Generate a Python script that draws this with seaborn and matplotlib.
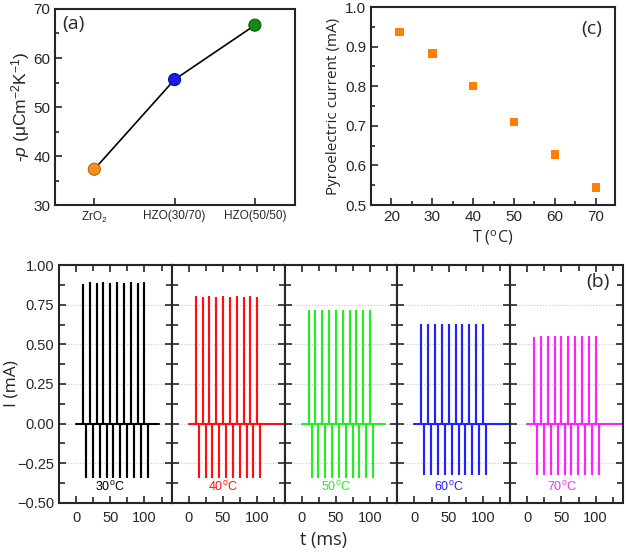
import matplotlib
matplotlib.use("Agg")
import matplotlib.pyplot as plt
from matplotlib.ticker import MultipleLocator, FixedLocator
import seaborn as sns
import pandas as pd

# ---------------- data ----------------
materials = ["ZrO$_2$", "HZO(30/70)", "HZO(50/50)"]
p_values = [37.3, 55.6, 66.7]
mat_colors = ["#f5901e", "#1a1aee", "#138a13"]
mat_edges = ["#b8620a", "#0a0a90", "#0a5a0a"]

T_c = [22, 30, 40, 50, 60, 70]
I_c = [0.937, 0.883, 0.800, 0.710, 0.627, 0.544]

temps = ["30", "40", "50", "60", "70"]
temp_colors = ["#000000", "#ff1010", "#22ee22", "#2222ff", "#ff22ff"]
pos_times = [10, 20, 30, 40, 50, 60, 70, 80, 90, 100]
neg_times = [14.5, 24.5, 34.5, 44.5, 54.5, 64.5, 74.5, 84.5, 94.5, 104.5]
pos_amp = {
    "30": [0.875, 0.885, 0.878, 0.885, 0.880, 0.885, 0.880, 0.885, 0.880, 0.885],
    "40": [0.800, 0.795, 0.800, 0.795, 0.800, 0.790, 0.800, 0.790, 0.800, 0.795],
    "50": [0.712, 0.712, 0.712, 0.712, 0.712, 0.712, 0.712, 0.712, 0.712, 0.712],
    "60": [0.622, 0.622, 0.622, 0.622, 0.622, 0.622, 0.622, 0.622, 0.622, 0.622],
    "70": [0.540, 0.545, 0.545, 0.545, 0.545, 0.545, 0.545, 0.545, 0.545, 0.545],
}
neg_amp = {
    "30": [-0.334] * 10,
    "40": [-0.334] * 10,
    "50": [-0.334] * 10,
    "60": [-0.320] * 10,
    "70": [-0.320] * 10,
}
base_start = {"30": 0, "40": 0, "50": 0, "60": 0, "70": 0}
base_end = {"30": 122, "40": 140, "50": 122, "60": 140, "70": 140}

# ---------------- style ----------------
sns.set_style("ticks")
plt.rcParams["font.family"] = ["Liberation Sans", "DejaVu Sans"]
plt.rcParams["mathtext.fontset"] = "custom"
plt.rcParams["mathtext.rm"] = "Liberation Sans"
plt.rcParams["mathtext.it"] = "Liberation Sans:italic"
plt.rcParams["mathtext.default"] = "regular"
plt.rcParams["axes.linewidth"] = 1.5

fig = plt.figure(figsize=(6.27, 5.52), dpi=100)

# ---------------- panel (a) ----------------
ax_a = fig.add_axes([0.0877, 0.6286, 0.3828, 0.3551])
df_a = pd.DataFrame({"material": materials, "p": p_values})
sns.lineplot(data=df_a, x="material", y="p", color="black", lw=1.2, sort=False, ax=ax_a)
sns.scatterplot(data=df_a, x="material", y="p", hue="material", palette=mat_colors,
                s=75, edgecolor=mat_edges, linewidth=0.8, legend=False, ax=ax_a, zorder=3)
ax_a.set_xlim(-0.49, 2.5)
ax_a.set_ylim(30, 70)
ax_a.yaxis.set_major_locator(MultipleLocator(10))
ax_a.yaxis.set_minor_locator(MultipleLocator(5))
ax_a.tick_params(direction="in", which="both", width=1.2)
ax_a.tick_params(axis="y", which="major", length=5, labelsize=11)
ax_a.tick_params(axis="y", which="minor", length=3)
ax_a.tick_params(axis="x", length=5, labelsize=8.5)
ax_a.set_xlabel("")
ax_a.set_ylabel("-$\\mathit{p}$ (μCm$^{-2}$K$^{-1}$)", fontsize=12.5)
ax_a.yaxis.set_label_coords(-0.095, 0.5)
ax_a.text(0.03, 0.925, "(a)", transform=ax_a.transAxes, fontsize=14,
          family=["Open Sans", "DejaVu Sans"], va="center")

# ---------------- panel (c) ----------------
ax_c = fig.add_axes([0.5917, 0.6286, 0.3892, 0.3587])
df_c = pd.DataFrame({"T": T_c, "I": I_c})
sns.scatterplot(data=df_c, x="T", y="I", marker="s", color="#ff8000", s=38,
                edgecolor="none", ax=ax_c)
ax_c.set_xlim(15, 74.7)
ax_c.set_ylim(0.5, 1.0)
ax_c.xaxis.set_major_locator(MultipleLocator(10))
ax_c.xaxis.set_minor_locator(MultipleLocator(5))
ax_c.yaxis.set_major_locator(MultipleLocator(0.1))
ax_c.yaxis.set_minor_locator(MultipleLocator(0.05))
ax_c.tick_params(direction="in", which="both", width=1.2, labelsize=11)
ax_c.tick_params(which="major", length=5)
ax_c.tick_params(which="minor", length=3)
ax_c.set_xlabel("T ($^o$C)", fontsize=11.5, labelpad=3,
                family=["Open Sans", "DejaVu Sans"])
ax_c.set_ylabel("Pyroelectric current (mA)", fontsize=11, labelpad=3,
                family=["Open Sans", "DejaVu Sans"])
ax_c.text(0.86, 0.89, "(c)", transform=ax_c.transAxes, fontsize=14,
          family=["Open Sans", "DejaVu Sans"], va="center")

# ---------------- panel (b) ----------------
left, right = 0.0941, 0.9936
bottom, height = 0.0888, 0.4311
w = (right - left) / 5
axes_b = []
for i, (tk, col) in enumerate(zip(temps, temp_colors)):
    ax = fig.add_axes([left + i * w, bottom, w, height])
    axes_b.append(ax)
    ts, Is = [base_start[tk]], [0.0]
    for tp, ap, tn, an in zip(pos_times, pos_amp[tk], neg_times, neg_amp[tk]):
        ts += [tp, tp, tp, tn, tn, tn]
        Is += [0.0, ap, 0.0, 0.0, an, 0.0]
    ts.append(base_end[tk])
    Is.append(0.0)
    df_b = pd.DataFrame({"t": ts, "I": Is})
    sns.lineplot(data=df_b, x="t", y="I", sort=False, estimator=None, color=col,
                 lw=1.5, ax=ax)
    ax.set_xlim(-25, 140)
    ax.set_ylim(-0.5, 1.0)
    ax.xaxis.set_major_locator(FixedLocator([0, 50, 100]))
    ax.xaxis.set_minor_locator(FixedLocator([25, 75, 125]))
    ax.yaxis.set_major_locator(MultipleLocator(0.25))
    ax.yaxis.set_minor_locator(MultipleLocator(0.125))
    ax.yaxis.grid(True, which="major", ls=":", color="#c8c8c8", lw=0.8)
    ax.set_axisbelow(True)
    ax.tick_params(direction="in", which="both", top=True, right=True, width=1.2,
                   labelsize=10.5)
    ax.tick_params(which="major", length=5)
    ax.tick_params(which="minor", length=4)
    ax.tick_params(axis="x", pad=6)
    if i > 0:
        ax.tick_params(labelleft=False)
        ax.set_ylabel("")
    else:
        ax.set_ylabel("I (mA)", fontsize=12.5, family=["Open Sans", "DejaVu Sans"])
        ax.yaxis.set_label_coords(-0.35, 0.5)
    ax.set_xlabel("")
    ax.text(50, -0.40, tk + "$^o$C", color=col, fontsize=9, ha="center", va="center")

axes_b[-1].text(104, 0.89, "(b)", fontsize=14, ha="center", va="center",
                family=["Open Sans", "DejaVu Sans"])
fig.text(323 / 627, 1 - 540 / 552, "t (ms)", fontsize=13, ha="center", va="center",
         family=["Open Sans", "DejaVu Sans"])

fig.savefig("out.png", dpi=100, facecolor="white")
